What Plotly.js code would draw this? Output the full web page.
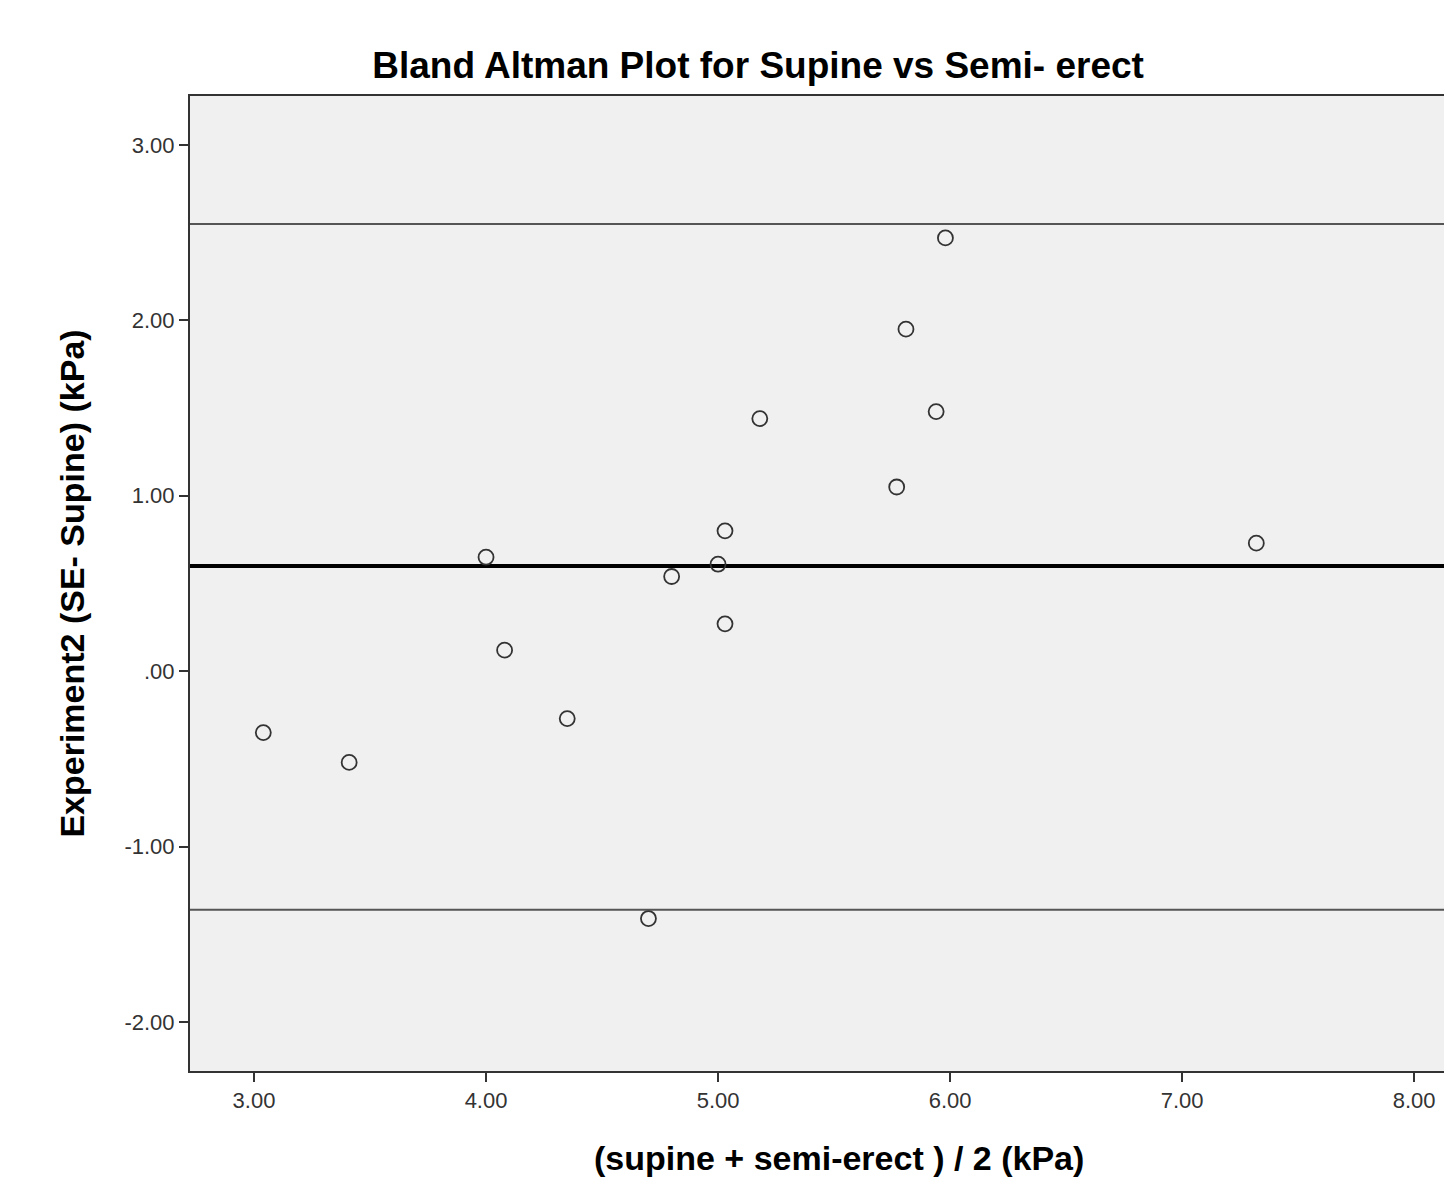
<!DOCTYPE html>
<html>
<head>
<meta charset="utf-8">
<script src="https://cdn.plot.ly/plotly-3.0.1.min.js"></script>
<style>html,body{margin:0;padding:0;background:#fff;}#chart{width:1444px;height:1179px;}</style>
</head>
<body>
<div id="chart"></div>
<script>
// Data
const meanVals = [3.04, 3.41, 4.00, 4.08, 4.35, 4.70, 4.80, 5.00, 5.03, 5.03, 5.18, 5.77, 5.81, 5.94, 5.98, 7.32];
const diffVals = [-0.35, -0.52, 0.65, 0.12, -0.27, -1.41, 0.54, 0.61, 0.80, 0.27, 1.44, 1.05, 1.95, 1.48, 2.47, 0.73];
const upperLimit = 2.55;
const meanDiff = 0.60;
const lowerLimit = -1.36;
const xTickVals = [3, 4, 5, 6, 7, 8];
const xTickText = ['3.00', '4.00', '5.00', '6.00', '7.00', '8.00'];
const yTickVals = [3, 2, 1, 0, -1, -2];
const yTickText = ['3.00', '2.00', '1.00', '.00', '-1.00', '-2.00'];
const xRange = [2.724, 8.129];
const yRange = [-2.279, 3.279];
const xTitle = '(supine + semi-erect ) / 2 (kPa)';
const yTitle = 'Experiment2 (SE- Supine) (kPa)';
const chartTitle = 'Bland Altman Plot for Supine vs Semi- erect';

const font = 'Liberation Sans, Arial, sans-serif';

const traces = [
  {x: [xRange[0], xRange[1]], y: [upperLimit, upperLimit], mode: 'lines', line: {color: '#555555', width: 2}, hoverinfo: 'skip', showlegend: false},
  {x: [xRange[0], xRange[1]], y: [lowerLimit, lowerLimit], mode: 'lines', line: {color: '#555555', width: 2}, hoverinfo: 'skip', showlegend: false},
  {x: [xRange[0], xRange[1]], y: [meanDiff, meanDiff], mode: 'lines', line: {color: '#000000', width: 4}, hoverinfo: 'skip', showlegend: false},
  {x: meanVals, y: diffVals, mode: 'markers', type: 'scatter', showlegend: false,
   marker: {symbol: 'circle-open', size: 15, color: '#333333', line: {width: 1.8, color: '#333333'}}}
];

const layout = {
  width: 1444, height: 1179,
  margin: {l: 190, r: 0, t: 96, b: 108},
  paper_bgcolor: '#ffffff',
  plot_bgcolor: '#f0f0f0',
  title: {text: '<b>' + chartTitle + '</b>', font: {family: font, size: 37, color: '#000'}, x: 0.525, xanchor: 'center', y: 0.945, yanchor: 'middle'},
  xaxis: {
    range: xRange, tickvals: xTickVals, ticktext: xTickText,
    showgrid: false, zeroline: false, showline: true, linecolor: '#333', linewidth: 2, mirror: true,
    ticks: 'outside', ticklen: 9, tickwidth: 2, tickcolor: '#333',
    tickfont: {family: font, size: 22, color: '#333'}
  },
  yaxis: {
    range: yRange, tickvals: yTickVals, ticktext: yTickText,
    showgrid: false, zeroline: false, showline: true, linecolor: '#333', linewidth: 2,
    ticks: 'outside', ticklen: 9, tickwidth: 2, tickcolor: '#333',
    tickfont: {family: font, size: 22, color: '#333'},
    title: {text: '<b>' + yTitle + '</b>', font: {family: font, size: 34, color: '#000'}, standoff: 30}
  },
  annotations: [
    {text: '<b>' + xTitle + '</b>', xref: 'paper', yref: 'paper', x: 0.5175, y: -0.0892,
     xanchor: 'center', yanchor: 'middle', showarrow: false, font: {family: font, size: 34, color: '#000'}}
  ]
};

Plotly.newPlot('chart', traces, layout, {displayModeBar: false, staticPlot: true});
</script>
</body>
</html>
